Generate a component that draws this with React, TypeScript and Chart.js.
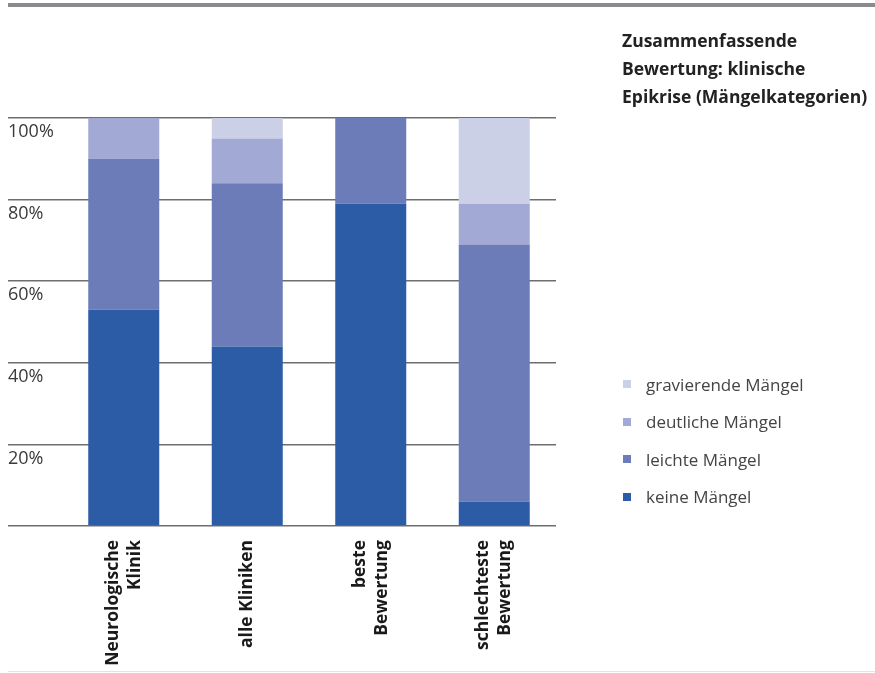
import React, { useEffect, useRef } from "react";
import { Chart, registerables } from "chart.js";

Chart.register(...registerables);

const categories: string[][] = [
  ["Neurologische", "Klinik"],
  ["alle Kliniken"],
  ["beste", "Bewertung"],
  ["schlechteste", "Bewertung"],
];
const keineMaengel = [53, 44, 79, 6];
const leichteMaengel = [37, 40, 21, 63];
const deutlicheMaengel = [10, 11, 0, 10];
const gravierendeMaengel = [0, 5, 0, 21];
const seriesNames = ["keine Mängel", "leichte Mängel", "deutliche Mängel", "gravierende Mängel"];
const seriesColors = ["#2d5ca6", "#6c7cb9", "#a2a9d4", "#cbd0e7"];
const yTicks = [0, 20, 40, 60, 80, 100];
const titleLines = ["Zusammenfassende", "Bewertung: klinische", "Epikrise (Mängelkategorien)"];

const FONT = '"Open Sans", "Noto Sans", sans-serif';

const xLabelPlugin = {
  id: "xLabels",
  afterDraw(chart: any) {
    const ctx = chart.ctx;
    const xs = chart.scales.x;
    const top = chart.chartArea.bottom + 14;
    const lh = 22;
    ctx.save();
    ctx.font = `bold 17.5px ${FONT}`;
    ctx.fillStyle = "#1a1a1a";
    ctx.textAlign = "right";
    ctx.textBaseline = "middle";
    categories.forEach((lines, i) => {
      const cx = xs.getPixelForValue(i);
      const n = lines.length;
      lines.forEach((line, j) => {
        const off = (j - (n - 1) / 2) * lh;
        ctx.save();
        ctx.translate(cx + off, top);
        ctx.rotate(-Math.PI / 2);
        ctx.fillText(line, 0, 0);
        ctx.restore();
      });
    });
    ctx.restore();
  },
};

export default function App() {
  const ref = useRef<HTMLCanvasElement | null>(null);

  useEffect(() => {
    if (!ref.current) return;
    const data = [keineMaengel, leichteMaengel, deutlicheMaengel, gravierendeMaengel];
    const chart = new Chart(ref.current, {
      type: "bar",
      data: {
        labels: categories.map((c) => c.join(" ")),
        datasets: data.map((d, i) => ({
          label: seriesNames[i],
          data: d,
          backgroundColor: seriesColors[i],
          borderWidth: 0,
          barPercentage: 0.575,
          categoryPercentage: 1,
        })),
      },
      options: {
        responsive: false,
        animation: false,
        layout: { padding: { left: 8, right: 319, top: 118, bottom: 147 } },
        plugins: {
          legend: { display: false },
          tooltip: { enabled: false },
          title: { display: false },
        },
        scales: {
          x: {
            stacked: true,
            afterFit: (scale: any) => {
              scale.height = 0;
            },
            grid: { display: false },
            border: { display: false },
            ticks: { display: false },
          },
          y: {
            stacked: true,
            min: 0,
            max: 100,
            afterFit: (scale: any) => {
              scale.width = 54;
            },
            afterBuildTicks: (scale: any) => {
              scale.ticks = yTicks.map((v) => ({ value: v }));
            },
            border: { display: false },
            grid: {
              color: "#6e6e6e",
              lineWidth: 1.5,
              drawTicks: true,
              tickLength: 54,
              tickColor: "#6e6e6e",
              tickWidth: 1.5,
            },
            ticks: {
              crossAlign: "far",
              labelOffset: 14,
              padding: 0,
              color: "#3a3a3a",
              font: { family: FONT, size: 18 },
              callback: (v: any) => (Number(v) === 0 ? "" : `${v}%`),
            },
          },
        },
      },
      plugins: [xLabelPlugin],
    } as any);
    return () => chart.destroy();
  }, []);

  const legendOrder = [3, 2, 1, 0];

  return (
    <div
      style={{
        position: "fixed",
        left: 0,
        top: 0,
        width: 875,
        height: 673,
        background: "#fff",
        overflow: "hidden",
        fontFamily: FONT,
      }}
    >
      <canvas ref={ref} width={875} height={673} style={{ position: "absolute", left: 0, top: 0 }} />
      <div style={{ position: "absolute", left: 8, top: 3, right: 0, height: 4, background: "#8b8b8f" }} />
      <div style={{ position: "absolute", left: 8, top: 671, right: 0, height: 1, background: "#e3e3e3" }} />
      <div style={{ position: "absolute", left: 622, top: 26, fontWeight: 700, fontSize: 17.5, lineHeight: "28px", color: "#222" }}>
        {titleLines.map((t, i) => (
          <div key={i} style={{ whiteSpace: "nowrap" }}>{t}</div>
        ))}
      </div>
      {legendOrder.map((si, k) => (
        <div
          key={si}
          style={{
            position: "absolute",
            left: 623,
            top: 384 + k * 37.6 - 12,
            height: 24,
            display: "flex",
            alignItems: "center",
            fontSize: 17,
            color: "#444",
            whiteSpace: "nowrap",
          }}
        >
          <span style={{ display: "inline-block", width: 8, height: 8, background: seriesColors[si], marginRight: 15 }} />
          <span>{seriesNames[si]}</span>
        </div>
      ))}
    </div>
  );
}
